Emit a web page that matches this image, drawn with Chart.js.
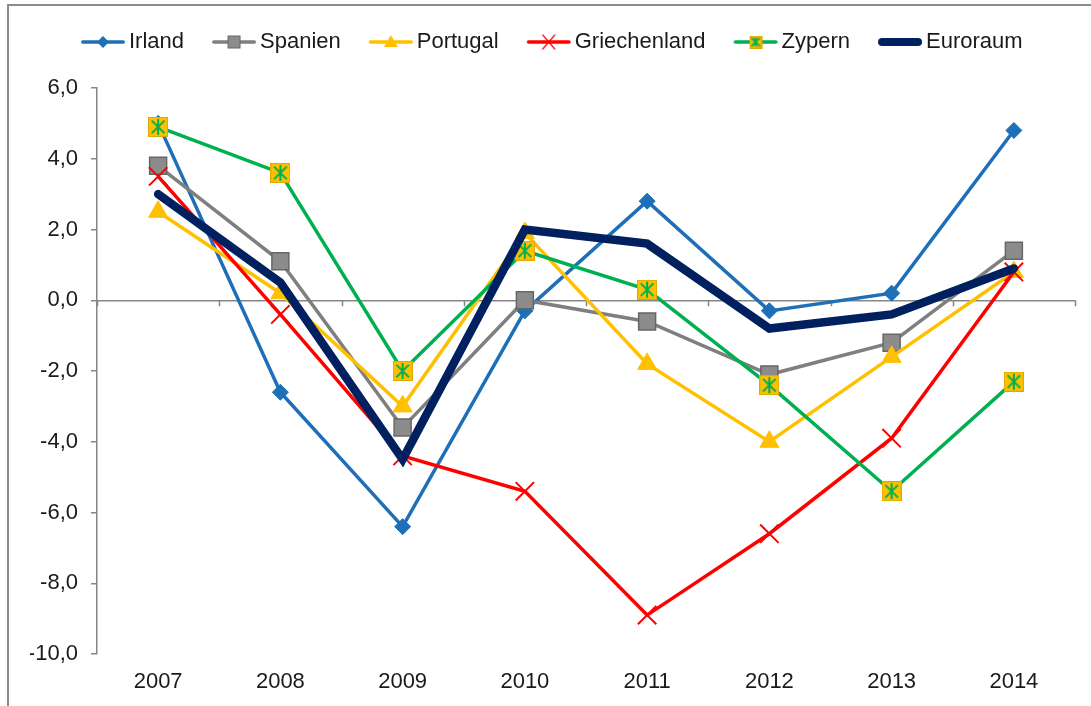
<!DOCTYPE html>
<html lang="de">
<head>
<meta charset="utf-8">
<title>Wachstum Euroraum</title>
<script src="https://cdn.jsdelivr.net/npm/chart.js@4/dist/chart.umd.min.js"></script>
<style>
    html, body { margin: 0; padding: 0; background: #fff; }
    #wrap { position: relative; width: 1091px; height: 706px; overflow: hidden; }
    #frame { position: absolute; left: 7px; top: 4px; width: 2000px; height: 2000px;
             border-top: 2px solid #8c8c8c; border-left: 2px solid #8c8c8c; }
    canvas { position: absolute; left: 0; top: 0; }
</style>
</head>
<body>
<div id="wrap">
    <div id="frame"></div>
    <canvas id="chart" width="1091" height="706"></canvas>
</div>
<script>
// Daten
const years = ['2007', '2008', '2009', '2010', '2011', '2012', '2013', '2014'];
const irland       = [5.0, -2.6, -6.4, -0.3, 2.8, -0.3, 0.2, 4.8];
const spanien      = [3.8, 1.1, -3.6, 0.0, -0.6, -2.1, -1.2, 1.4];
const portugal     = [2.5, 0.2, -3.0, 1.9, -1.8, -4.0, -1.6, 0.8];
const griechenland = [3.5, -0.4, -4.4, -5.4, -8.9, -6.6, -3.9, 0.8];
const zypern       = [4.9, 3.6, -2.0, 1.4, 0.3, -2.4, -5.4, -2.3];
const euroraum     = [3.0, 0.5, -4.5, 2.0, 1.6, -0.8, -0.4, 0.9];
const yTicks = { min: -10, max: 6, step: 2 };

const FONT = 'Liberation Sans, Arial, sans-serif';
const axisColor = '#868686';
const textColor = '#1a1a1a';
const LEGEND_BOX = 55;   // Platz für Legendensymbol

// Zypern-Marker: gelbes Quadrat mit grünem Stern
function zypernMarker(size) {
    const c = document.createElement('canvas');
    c.width = c.height = size;
    const g = c.getContext('2d');
    g.fillStyle = '#FFC000';
    g.fillRect(0, 0, size, size);
    g.strokeStyle = '#E0A800';
    g.lineWidth = 1;
    g.strokeRect(0.5, 0.5, size - 1, size - 1);
    g.strokeStyle = '#00B050';
    g.lineWidth = 2;
    const m = size / 2, a = size * 0.32;
    g.beginPath();
    g.moveTo(m, 2); g.lineTo(m, size - 2);
    g.moveTo(m - a, m - a); g.lineTo(m + a, m + a);
    g.moveTo(m + a, m - a); g.lineTo(m - a, m + a);
    g.stroke();
    return c;
}

// Legendensymbol: Linie mit Marker; rechtsbündig im Bild, damit es dicht am Text steht
function legendIcon(color, lw, marker) {
    const W = LEGEND_BOX + 16, h = 22, lineLen = 46;
    const c = document.createElement('canvas');
    c.width = W; c.height = h;
    const g = c.getContext('2d');
    const x1 = W - lineLen, cx = W - lineLen / 2, cy = h / 2;
    g.strokeStyle = color;
    g.lineWidth = lw;
    g.lineCap = 'round';
    g.beginPath();
    g.moveTo(x1 + lw / 2 + 1, cy); g.lineTo(W - lw / 2 - 1, cy);
    g.stroke();
    if (marker) marker(g, cx, cy);
    return c;
}

const legendMarkers = {
    Irland: (g, x, y) => {
        g.fillStyle = '#1E6FB8';
        g.beginPath();
        g.moveTo(x, y - 6); g.lineTo(x + 6, y); g.lineTo(x, y + 6); g.lineTo(x - 6, y);
        g.closePath(); g.fill();
    },
    Spanien: (g, x, y) => {
        g.fillStyle = '#8C8C8C'; g.strokeStyle = '#666';
        g.lineWidth = 1;
        g.fillRect(x - 6, y - 6, 12, 12);
        g.strokeRect(x - 6, y - 6, 12, 12);
    },
    Portugal: (g, x, y) => {
        g.fillStyle = '#FFC000';
        g.beginPath();
        g.moveTo(x, y - 7); g.lineTo(x + 7, y + 5); g.lineTo(x - 7, y + 5);
        g.closePath(); g.fill();
    },
    Griechenland: (g, x, y) => {
        g.strokeStyle = '#FF0000'; g.lineWidth = 1.2;
        g.beginPath();
        g.moveTo(x - 6, y - 7); g.lineTo(x + 6, y + 7);
        g.moveTo(x + 6, y - 7); g.lineTo(x - 6, y + 7);
        g.stroke();
    },
    Zypern: (g, x, y) => {
        g.drawImage(zypernMarker(13), x - 6.5, y - 6.5);
    }
};

const zypernPoint = zypernMarker(20);

const datasets = [
    { label: 'Irland', data: irland, borderColor: '#1E6FB8', backgroundColor: '#1E6FB8',
      borderWidth: 3.5, pointStyle: 'rectRot', pointRadius: 8, pointBorderWidth: 1, order: 5 },
    { label: 'Spanien', data: spanien, borderColor: '#7F7F7F', backgroundColor: '#8C8C8C',
      pointBorderColor: '#666', borderWidth: 3.5, pointStyle: 'rect', pointRadius: 12,
      pointBorderWidth: 1.5, order: 4 },
    { label: 'Portugal', data: portugal, borderColor: '#FFC000', backgroundColor: '#FFC000',
      borderWidth: 3.5, pointStyle: 'triangle', pointRadius: 11, pointBorderWidth: 1, order: 3 },
    { label: 'Griechenland', data: griechenland, borderColor: '#FF0000', backgroundColor: '#FF0000',
      borderWidth: 3.5, pointStyle: 'crossRot', pointRadius: 13, pointBorderWidth: 2, order: 2 },
    { label: 'Zypern', data: zypern, borderColor: '#00B050', backgroundColor: '#FFC000',
      borderWidth: 3.5, pointStyle: zypernPoint, pointRadius: 10, order: 1 },
    { label: 'Euroraum', data: euroraum, borderColor: '#002060', backgroundColor: '#002060',
      borderWidth: 8.5, borderCapStyle: 'round', pointRadius: 0, pointHoverRadius: 0, order: 0 }
];

// kleine Teilstriche auf der Null-Linie zwischen den Kategorien
const zeroTicks = {
    id: 'zeroTicks',
    beforeDatasetsDraw(chart) {
        const xs = chart.scales.x, ys = chart.scales.y, ctx = chart.ctx;
        const y0 = ys.getPixelForValue(0);
        const step = xs.width / years.length;
        ctx.save();
        ctx.strokeStyle = axisColor;
        ctx.lineWidth = 1.5;
        ctx.beginPath();
        for (let i = 0; i <= years.length; i++) {
            const px = Math.round(xs.left + i * step) + 0.5;
            ctx.moveTo(px, y0);
            ctx.lineTo(px, y0 + 6);
        }
        ctx.stroke();
        ctx.restore();
    }
};

// Legende: mehr Abstand zum Diagramm und etwas nach rechts versetzt
const legendGap = {
    id: 'legendGap',
    afterInit(chart) {
        const lg = chart.legend;
        if (!lg) return;
        const fit = lg.fit;
        lg.fit = function () {
            fit.call(this);
            this.height += 25;
        };
    },
    afterLayout(chart) {
        if (!chart.legend) return;
        chart.legend.left += 23;
        chart.legend.right += 23;
    }
};

new Chart(document.getElementById('chart'), {
    type: 'line',
    data: {
        labels: years,
        datasets: datasets.map(d => Object.assign({ tension: 0, fill: false }, d))
    },
    plugins: [zeroTicks, legendGap],
    options: {
        responsive: false,
        animation: false,
        devicePixelRatio: 1,
        layout: { padding: { left: 30, right: 16, top: 21, bottom: 0 } },
        plugins: {
            tooltip: { enabled: false },
            legend: {
                position: 'top',
                align: 'start',
                labels: {
                    usePointStyle: true,
                    pointStyleWidth: LEGEND_BOX,
                    padding: 10,
                    color: textColor,
                    font: { family: FONT, size: 22 },
                    generateLabels: (chart) => chart.data.datasets.map((ds, i) => ({
                        text: ds.label,
                        fontColor: textColor,
                        pointStyle: legendIcon(ds.borderColor, ds.label === 'Euroraum' ? 8 : 3.5,
                                               legendMarkers[ds.label]),
                        hidden: false,
                        datasetIndex: i,
                        lineWidth: 0,
                        strokeStyle: 'transparent',
                        fillStyle: 'transparent'
                    }))
                }
            }
        },
        scales: {
            x: {
                offset: true,
                grid: { display: false, drawTicks: false },
                border: { display: false },
                ticks: { color: textColor, font: { family: FONT, size: 22 }, padding: 15,
                         maxRotation: 0 },
                afterFit: (s) => { s.height = 52; }
            },
            y: {
                min: yTicks.min,
                max: yTicks.max,
                ticks: {
                    stepSize: yTicks.step,
                    color: textColor,
                    padding: 13,
                    font: { family: FONT, size: 22 },
                    callback: v => v.toFixed(1).replace('.', ',')
                },
                grid: {
                    color: c => (c.tick && c.tick.value === 0) ? axisColor : 'transparent',
                    lineWidth: 1.5,
                    tickColor: axisColor,
                    tickLength: 6,
                    drawTicks: true
                },
                border: { display: true, color: axisColor, width: 1.5 },
                afterFit: (s) => { s.width = 67; }
            }
        }
    }
});
</script>
</body>
</html>
